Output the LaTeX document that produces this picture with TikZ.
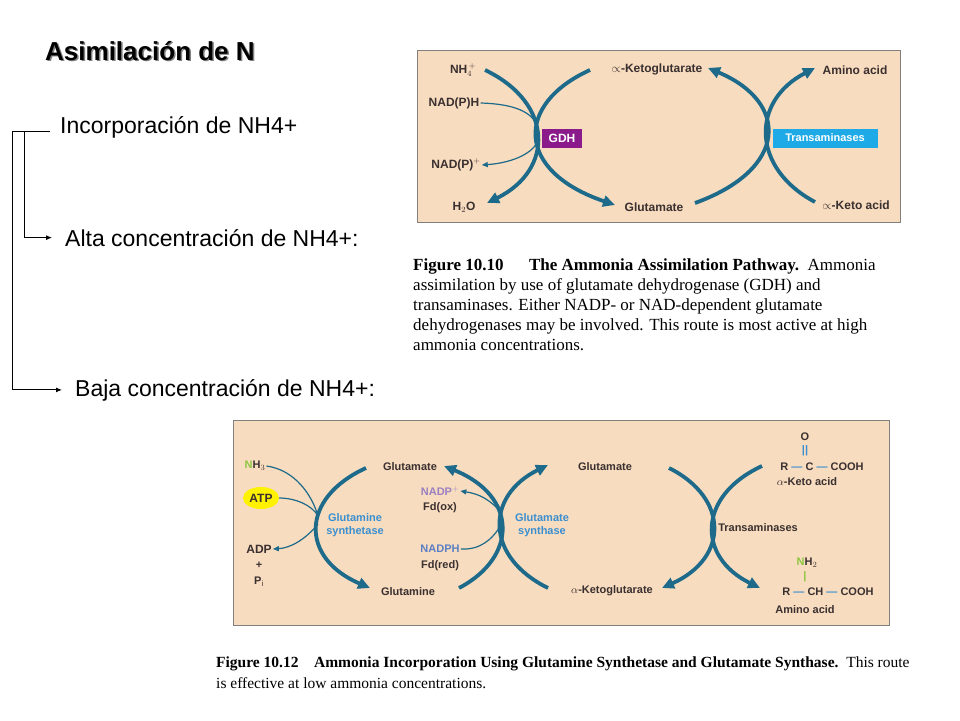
\documentclass[tikz,border=0pt]{standalone}
\usepackage{fontspec}
\setmainfont{Liberation Sans}
\newfontfamily\seriff{Liberation Serif}
\usetikzlibrary{arrows.meta,shapes.geometric}
\definecolor{peach}{HTML}{F8DCBF}
\definecolor{thick}{HTML}{1D6A8A}
\definecolor{gdh}{HTML}{8B1A8B}
\definecolor{trans}{HTML}{1EAAE6}
\definecolor{nhg}{HTML}{8DC63F}
\definecolor{nadb}{HTML}{5B7FC4}
\definecolor{nadp}{HTML}{9A80C0}
\definecolor{hto}{HTML}{29A8E0}
\definecolor{amino}{HTML}{F0A040}
\definecolor{keto}{HTML}{E8334A}
\definecolor{adp}{HTML}{E5195E}
\definecolor{enz}{HTML}{3A8FD0}
\definecolor{dtext}{HTML}{3A3030}
\tikzset{
 bigarc/.style={draw=thick,line width=3.8pt},
 bigtip/.style={bigarc,-{Triangle[length=12pt,width=11pt]}},
 thin/.style={draw=thick,line width=1.2pt},
 thintip/.style={thin,-{Triangle[length=6pt,width=5pt]}},
 tlab/.style={font=\fontsize{12}{14}\selectfont\bfseries,text=dtext,inner sep=1pt},
 slab/.style={font=\fontsize{11}{13}\selectfont\bfseries,text=dtext,inner sep=1pt},
 side/.style={font=\fontsize{23}{27}\selectfont,anchor=base west,inner sep=0pt},
 captxt/.style={font=\seriff\fontsize{17}{20}\selectfont,anchor=base west,inner sep=0pt},
 brk/.style={draw=black,line width=0.9pt},
 brktip/.style={brk,-{Latex[length=6pt,width=5pt]}},
}
\begin{document}
\begin{tikzpicture}[x=1pt,y=-1pt]
\useasboundingbox (0,0) rectangle (960,720);
\fill[white] (0,0) rectangle (960,720);
% title and side texts
\node[anchor=base west,inner sep=0pt,text=gray,font=\fontsize{26}{30}\selectfont\bfseries] (tsh) at (46.5,61.5) {Asimilación de N};
\node[anchor=base west,inner sep=0pt,font=\fontsize{26}{30}\selectfont\bfseries] (title) at (45,60) {Asimilación de N};
\node[side] (inc) at (60,133) {Incorporación de NH4+};
\node[side] (alta) at (65,246) {Alta concentración de NH4+:};
\node[side] (baja) at (75,396) {Baja concentración de NH4+:};
\coordinate (b0) at (50,131);
\coordinate (b1) at (12,131);
\coordinate (b2) at (24,131);
\draw[brk] (b0) -- (b1);
\draw[brktip] (b1) |- ([xshift=-13pt]baja.west);
\draw[brktip] (b2) |- ([xshift=-13pt]alta.west);
% ===== top figure =====
\draw[fill=peach,draw=gray,line width=1pt] (417,50) rectangle (900,222);
\node[text=nhg,tlab] (nh4) at (463,70) {NH$_4^{\,+}$};
\node[text=nadb,tlab] (nadph) at (454,103) {NAD(P)H};
\node[text=nadp,tlab] (nadpp) at (456,165) {NAD(P)$^{+}$};
\node[text=hto,tlab] (h2o) at (464,207) {H$_2$O};
\node[tlab] (akg) at (657,69) {$\propto$-Ketoglutarate};
\node[tlab] (glu) at (654,207) {Glutamate};
\node[text=amino,tlab] (aa) at (855,70) {Amino acid};
\node[text=keto,tlab] (ka) at (856,205) {$\propto$-Keto acid};
\node[fill=gdh,text=white,font=\fontsize{12}{14}\selectfont\bfseries,minimum width=40pt,minimum height=19pt,inner sep=0pt] (gdhb) at (562,138) {GDH};
\node[fill=trans,text=white,font=\fontsize{11}{13}\selectfont\bfseries,minimum width=105pt,minimum height=19pt,inner sep=0pt] (trb) at (825,138) {Transaminases};
\coordinate (t1a) at (485,70); \coordinate (t1b) at (487,203);
\coordinate (t2a) at (590,70); \coordinate (t2b) at (615,205);
\coordinate (t3a) at (695,203); \coordinate (t3b) at (708,68);
\coordinate (t4a) at (815,202); \coordinate (t4b) at (815,68);
\draw[bigtip] (t1a) .. controls (554,103) and (554,170) .. (t1b);
\draw[bigtip] (t2a) .. controls (515,104) and (515,171) .. (t2b);
\draw[bigtip] (t3a) .. controls (789,169) and (789,102) .. (t3b);
\draw[bigtip] (t4a) .. controls (751,168) and (751,101) .. (t4b);
\coordinate (tm1) at (537,124); \coordinate (tm2) at (537,143);
\draw[thin] (nadph.east) .. controls (515,104) and (530,112) .. (tm1);
\draw[thintip] (tm2) .. controls (530,155) and (510,163) .. (nadpp.east);
% caption 1
\node[captxt] (c1a) at (413,270) {\textbf{Figure 10.10}\quad\ \ \textbf{The Ammonia Assimilation Pathway.}\ \ Ammonia};
\node[captxt] (c1b) at (413,290) {assimilation by use of glutamate dehydrogenase (GDH) and};
\node[captxt] (c1c) at (413,310) {transaminases. Either NADP- or NAD-dependent glutamate};
\node[captxt] (c1d) at (413,330) {dehydrogenases may be involved. This route is most active at high};
\node[captxt] (c1e) at (413,350) {ammonia concentrations.};
% ===== bottom figure =====
\draw[fill=peach,draw=gray,line width=1pt] (233,420) rectangle (889,625);
\node[slab] (nh3) at (255,466) {\textcolor{nhg}{N}H$_3$};
\node[fill=yellow,ellipse,inner sep=0pt,minimum width=36pt,minimum height=22pt,slab,font=\fontsize{12}{14}\selectfont\bfseries] (atp) at (261,498) {ATP};
\node[text=adp,slab,font=\fontsize{12}{14}\selectfont\bfseries] (adp) at (259,549) {ADP};
\node[slab] (plus) at (259,565) {+};
\node[slab] (pi) at (259,582) {P$_\mathrm{i}$};
\node[slab] (glut1) at (410,467) {Glutamate};
\node[slab] (gln) at (408,592) {Glutamine};
\node[slab,text=enz,align=center] (gs) at (355,525) {Glutamine\\synthetase};
\node[slab,text=nadp] (nadp2) at (440,491) {NADP$^+$};
\node[slab] (fdox) at (440,508) {Fd(ox)};
\node[slab] (nadph2) at (440,549) {\textcolor{nadb}{NADPH}};
\node[slab] (fdred) at (440,566) {Fd(red)};
\node[slab,text=enz,align=center] (gsy) at (542,525) {Glutamate\\synthase};
\node[slab] (glut2) at (605,467) {Glutamate};
\node[slab] (akg2) at (612,591) {$\alpha$-Ketoglutarate};
\node[slab] (tra2) at (758,528) {Transaminases};
\node[slab] (o) at (805,437) {O};
\node[slab,text=enz] (dbl) at (805,451) {||};
\node[slab] (rc) at (822,467) {R \textcolor{enz}{---} C \textcolor{enz}{---} COOH};
\node[slab] (kacid) at (807,482) {$\alpha$-Keto acid};
\node[slab] (nh2) at (807,563) {\textcolor{nhg}{N}H$_2$};
\node[slab,text=nhg] (sgl) at (805,577) {|};
\node[slab] (rch) at (828,592) {R \textcolor{enz}{---} CH \textcolor{enz}{---} COOH};
\node[slab] (aacid) at (805,610) {Amino acid};
\coordinate (A0) at (366,468); \coordinate (A1) at (370,588);
\coordinate (B0) at (459,588); \coordinate (B1) at (444,466);
\coordinate (C0) at (548,588); \coordinate (C1) at (548,465);
\coordinate (D0) at (669,468); \coordinate (D1) at (662,588);
\coordinate (E0) at (762,466); \coordinate (E1) at (760,588);
\draw[bigtip] (A0) .. controls (300,498) and (300,558) .. (A1);
\draw[bigtip] (B0) .. controls (518,557) and (518,496) .. (B1);
\draw[bigtip] (C0) .. controls (485,557) and (485,496) .. (C1);
\draw[bigtip] (D0) .. controls (729,498) and (729,558) .. (D1);
\draw[bigtip] (E0) .. controls (697,496) and (697,557) .. (E1);
\coordinate (m1) at (318,516); \coordinate (m2) at (318,524);
\coordinate (m3) at (501,512); \coordinate (m4) at (501,525);
\draw[thin] (nh3.east) .. controls (295,470) and (312,495) .. (m1);
\draw[thin] (atp.east) .. controls (295,498) and (312,505) .. (m1);
\draw[thintip] (m2) .. controls (305,540) and (290,548) .. (adp.east);
\draw[thintip] (m3) .. controls (490,500) and (480,494) .. (nadp2.east);
\draw[thin] (nadph2.east) .. controls (480,550) and (492,540) .. (m4);
% caption 2
\node[captxt,font=\seriff\fontsize{15.5}{18}\selectfont] (c2a) at (216,667) {\textbf{Figure 10.12}\quad\textbf{Ammonia Incorporation Using Glutamine Synthetase and Glutamate Synthase.}\ \ This route};
\node[captxt,font=\seriff\fontsize{15.5}{18}\selectfont] (c2b) at (216,688) {is effective at low ammonia concentrations.};
\end{tikzpicture}
\end{document}
